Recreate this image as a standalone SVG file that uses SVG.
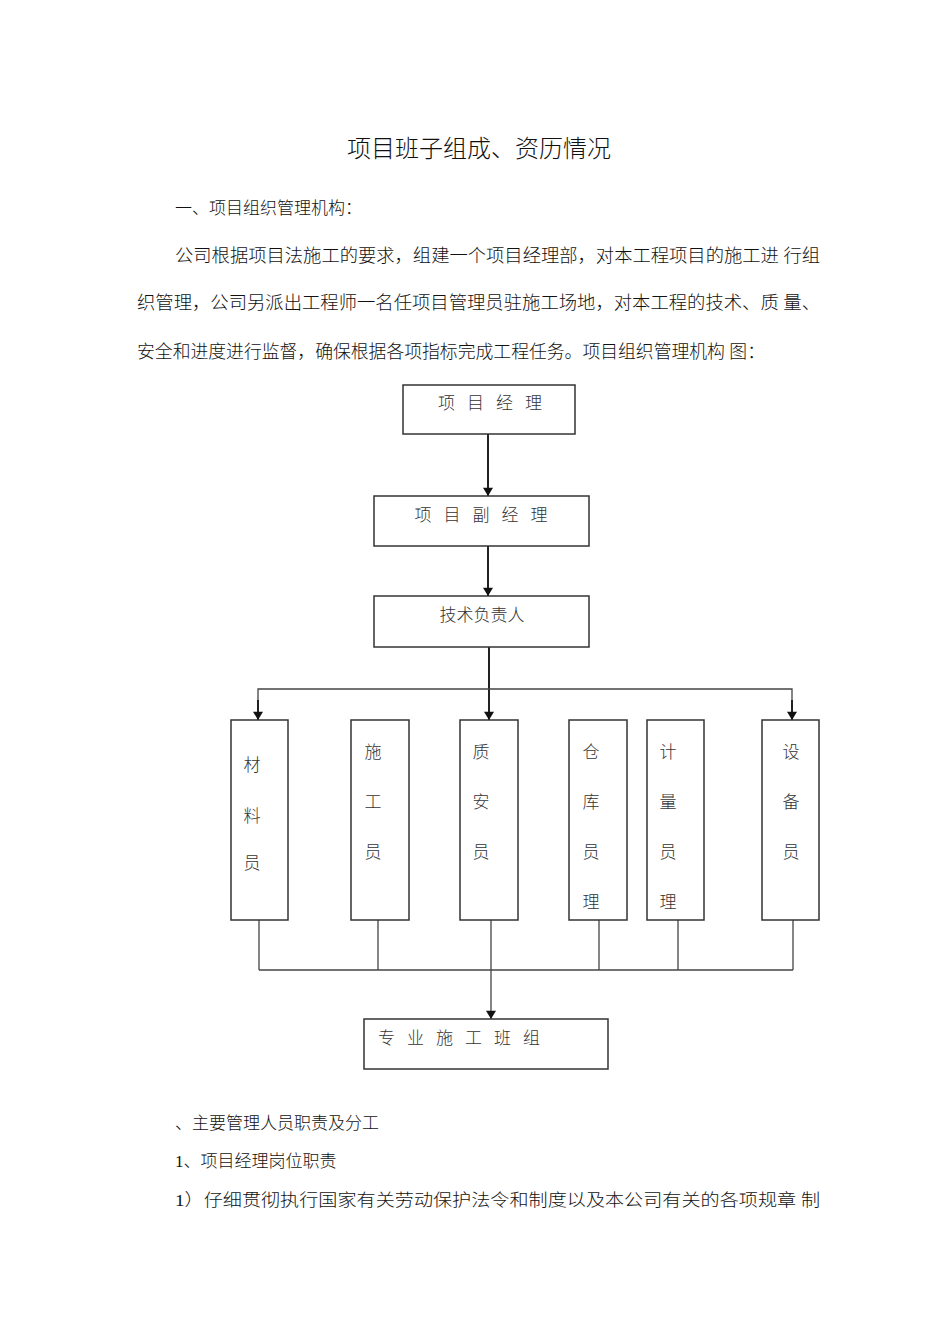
<svg xmlns="http://www.w3.org/2000/svg" width="950" height="1344" viewBox="0 0 950 1344">
<defs>
<marker id="ah" viewBox="0 0 10 12" refX="10" refY="6" markerWidth="12" markerHeight="10" markerUnits="userSpaceOnUse" orient="auto">
<path d="M0,0 L10,6 L0,12 z" fill="#111"/>
</marker>
<style>
.t{font-family:"Liberation Serif","Noto Sans CJK SC",serif;fill:#111;font-weight:300}
.b{font-family:"Noto Sans CJK SC",sans-serif;fill:#333;font-size:17px;font-weight:300}
.box{fill:#fff;stroke:#333;stroke-width:1.5}
.ln{stroke:#444;stroke-width:1.3;fill:none}
.ar{stroke:#222;stroke-width:2;fill:none}
</style>
</defs>
<rect width="950" height="1344" fill="#fff"/>
<text class="t" x="479" y="157" font-size="24" text-anchor="middle">项目班子组成、资历情况</text>
<text class="t" x="175" y="214" font-size="17">一、项目组织管理机构：</text>
<text class="t" x="175" y="262" font-size="18" textLength="645" lengthAdjust="spacingAndGlyphs">公司根据项目法施工的要求，组建一个项目经理部，对本工程项目的施工进 行组</text>
<text class="t" x="137" y="309" font-size="18" textLength="683" lengthAdjust="spacingAndGlyphs">织管理，公司另派出工程师一名任项目管理员驻施工场地，对本工程的技术、质 量、</text>
<text class="t" x="137" y="358" font-size="18" textLength="628" lengthAdjust="spacingAndGlyphs">安全和进度进行监督，确保根据各项指标完成工程任务。项目组织管理机构 图：</text>
<g id="connectors">
<line class="ar" x1="488" y1="434" x2="488" y2="496" marker-end="url(#ah)"/>
<line class="ar" x1="488" y1="546" x2="488" y2="596" marker-end="url(#ah)"/>
<line class="ar" x1="489" y1="647" x2="489" y2="720" marker-end="url(#ah)"/>
<polyline class="ln" points="258,720 258,689 792,689 792,720"/>
<line class="ar" x1="258" y1="700" x2="258" y2="720" marker-end="url(#ah)"/>
<line class="ar" x1="792" y1="700" x2="792" y2="720" marker-end="url(#ah)"/>
<line class="ln" x1="259" y1="920" x2="259" y2="970"/>
<line class="ln" x1="378" y1="920" x2="378" y2="970"/>
<line class="ln" x1="599" y1="920" x2="599" y2="970"/>
<line class="ln" x1="678" y1="920" x2="678" y2="970"/>
<line class="ln" x1="793" y1="920" x2="793" y2="970"/>
<line class="ln" x1="259" y1="970" x2="793" y2="970"/>
<line class="ln" x1="491" y1="918" x2="491" y2="1019" marker-end="url(#ah)"/>
</g>
<g id="n1"><rect class="box" x="403" y="385" width="172" height="49"/><text class="b" x="496" y="409" text-anchor="middle" letter-spacing="12">项目经理</text></g>
<g id="n2"><rect class="box" x="374" y="496" width="215" height="50"/><text class="b" x="487" y="521" text-anchor="middle" letter-spacing="12">项目副经理</text></g>
<g id="n3"><rect class="box" x="374" y="596" width="215" height="51"/><text class="b" x="482" y="621" text-anchor="middle" font-size="18">技术负责人</text></g>
<g id="n4"><rect class="box" x="231" y="720" width="57" height="200"/>
<text class="b" x="252" y="771" text-anchor="middle">材</text><text class="b" x="252" y="822" text-anchor="middle">料</text><text class="b" x="252" y="869" text-anchor="middle">员</text></g>
<g id="n5"><rect class="box" x="351" y="720" width="58" height="200" stroke-width="2"/>
<text class="b" x="373" y="758" text-anchor="middle">施</text><text class="b" x="373" y="808" text-anchor="middle">工</text><text class="b" x="373" y="858" text-anchor="middle">员</text></g>
<g id="n6"><rect class="box" x="460" y="720" width="58" height="200"/>
<text class="b" x="481" y="758" text-anchor="middle">质</text><text class="b" x="481" y="808" text-anchor="middle">安</text><text class="b" x="481" y="858" text-anchor="middle">员</text></g>
<g id="n7"><rect class="box" x="569" y="720" width="58" height="200"/>
<text class="b" x="591" y="758" text-anchor="middle">仓</text><text class="b" x="591" y="808" text-anchor="middle">库</text><text class="b" x="591" y="858" text-anchor="middle">员</text><text class="b" x="591" y="908" text-anchor="middle">理</text></g>
<g id="n8"><rect class="box" x="647" y="720" width="57" height="200"/>
<text class="b" x="668" y="758" text-anchor="middle">计</text><text class="b" x="668" y="808" text-anchor="middle">量</text><text class="b" x="668" y="858" text-anchor="middle">员</text><text class="b" x="668" y="908" text-anchor="middle">理</text></g>
<g id="n9"><rect class="box" x="762" y="720" width="57" height="200"/>
<text class="b" x="791" y="758" text-anchor="middle">设</text><text class="b" x="791" y="808" text-anchor="middle">备</text><text class="b" x="791" y="858" text-anchor="middle">员</text></g>
<g id="n10"><rect class="box" x="364" y="1019" width="244" height="50"/><text class="b" x="378" y="1044" letter-spacing="12">专业施工班组</text></g>
<text class="t" x="175" y="1129" font-size="17">、主要管理人员职责及分工</text>
<text class="t" x="175" y="1167" font-size="17">1、项目经理岗位职责</text>
<text class="t" x="175" y="1206" font-size="17" textLength="645" lengthAdjust="spacingAndGlyphs">1）仔细贯彻执行国家有关劳动保护法令和制度以及本公司有关的各项规章  制</text>
</svg>
